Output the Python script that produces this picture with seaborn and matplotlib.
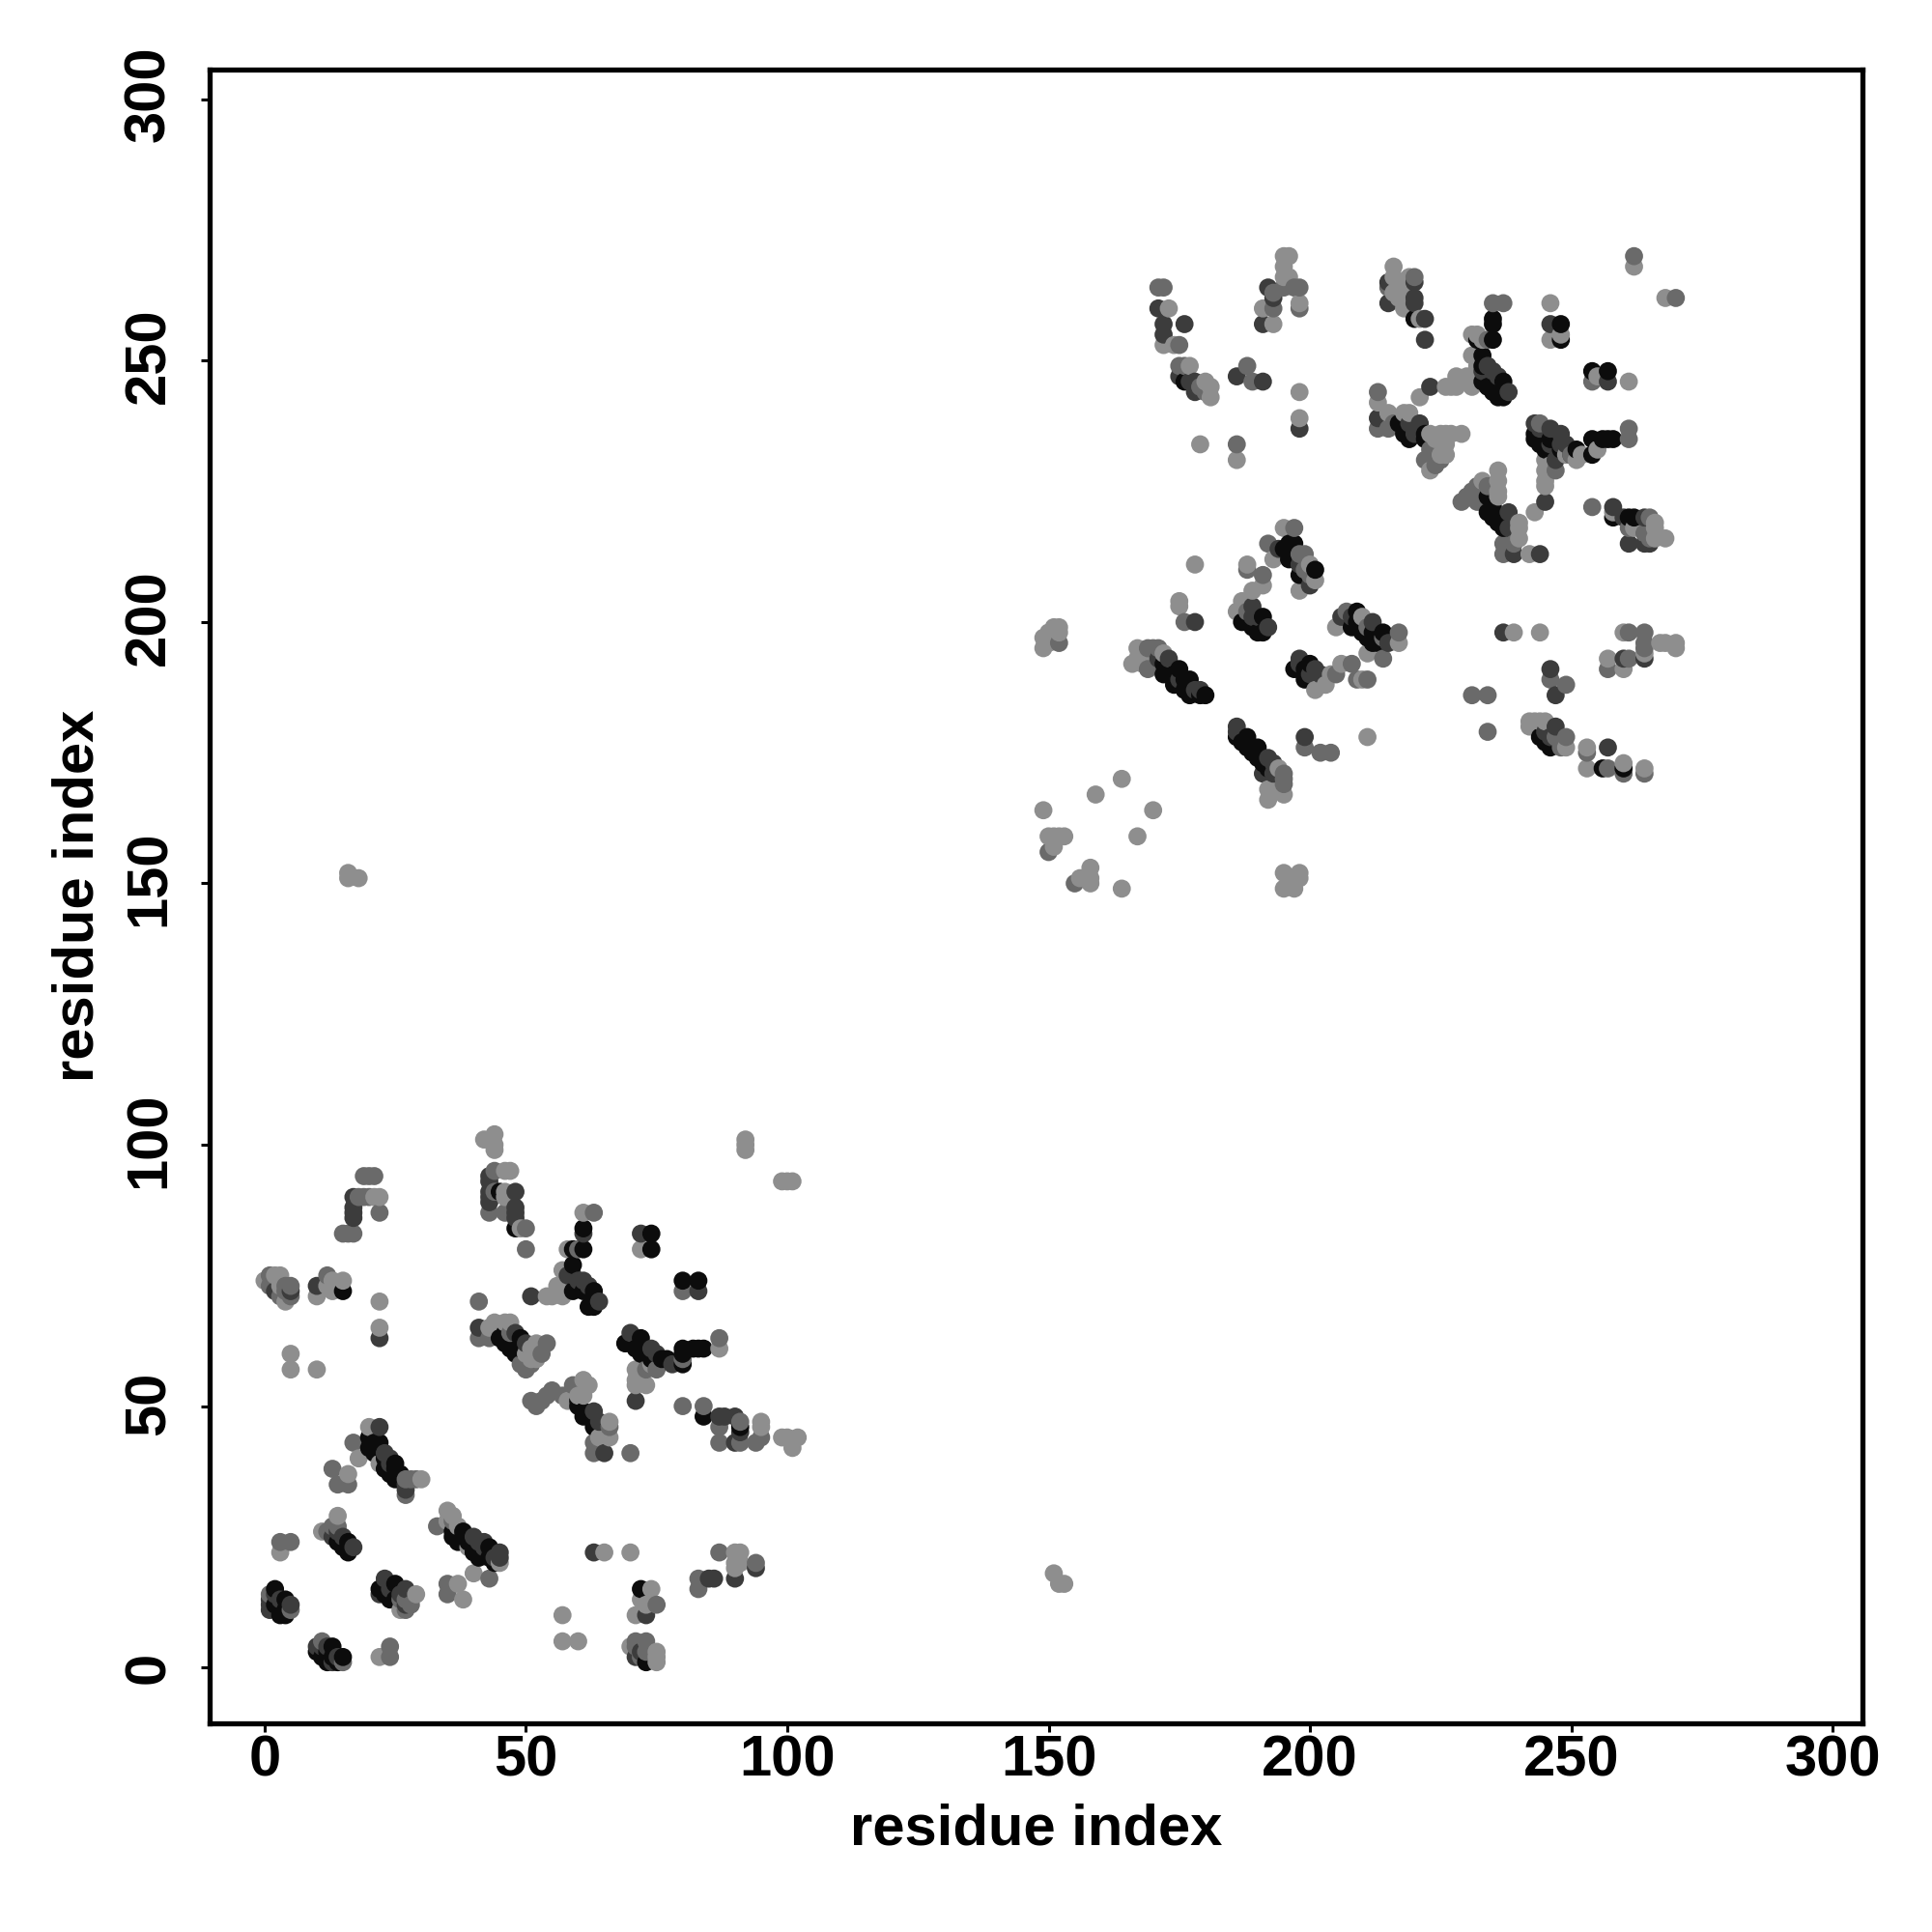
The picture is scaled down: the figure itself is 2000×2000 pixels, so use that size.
import pandas as pd
import matplotlib
matplotlib.use('Agg')
import matplotlib.pyplot as plt
from matplotlib.transforms import ScaledTranslation
import seaborn as sns

# contacts as (residue i, residue j, strength), 1 = weak ... 4 = strong
# lower left block
block_a = [(1,14,2),(1,13,3),(1,12,3),(1,11,3),(2,15,4),(2,14,3),(2,12,4),(3,11,4),(3,13,3),(3,10,4),(4,13,4),(4,11,4),(4,10,4),(5,11,2),(5,12,3)]
block_b = [(10,3,4),(10,4,3),(11,5,2),(11,4,3),(11,2,4),(12,3,4),(12,4,3),(12,1,4),(13,4,4),(13,2,4),(13,1,3),(14,2,3),(14,1,4),(15,2,4),(15,1,2),(22,2,1),(24,2,2),(24,4,2)]
block_c = [(3,24,2),(5,24,2),(3,22,1),(11,26,1),(12,26,2),(13,27,2),(13,25,3),(14,29,1),(14,27,2),(14,26,3),(14,24,4),(15,25,3),(15,23,4),(16,24,4),(16,23,4),(16,22,4),(17,23,3)]
block_d = [(22,15,4),(22,14,3),(23,17,3),(23,16,4),(23,14,4),(24,15,3),(24,14,4),(24,13,4),(25,16,4),(25,13,4),(26,14,3),(26,13,2),(26,11,1),(27,15,3),(27,13,2),(27,12,3),(27,11,2),(28,12,2),(29,14,1)]
block_e = [(33,27,2),(35,30,1),(35,28,1),(35,16,2),(35,14,2),(36,29,1),(36,28,2),(36,26,4),(36,25,4),(37,16,1),(37,27,1),(37,24,4),(38,26,4),(38,25,4),(38,13,1),(39,24,4),(39,23,1),(40,25,3),(40,22,4),(40,18,1),(41,24,3),(41,22,4),(41,21,4),(42,23,3),(42,24,3),(43,23,4),(43,21,4),(43,17,2),(44,21,3),(44,20,4),(45,20,1),(45,22,3),(45,21,3)]
block_f = [(20,46,1),(22,46,3),(17,43,2),(18,40,1),(20,44,4),(20,42,4),(21,43,4),(21,41,4),(22,43,4),(22,42,4),(22,39,1),(23,41,3),(23,40,4),(23,38,4),(24,40,3),(24,39,3),(24,37,4),(25,38,4),(25,39,4),(25,36,4),(26,36,4),(26,37,4),(27,36,2),(27,35,3),(27,33,2),(27,34,3),(28,36,2),(29,36,2),(30,36,1),(13,38,2),(16,37,1),(14,35,2),(16,35,2)]
block_g = [(0,74,1),(1,75,2),(2,75,1),(3,75,1),(1,73,2),(2,72,3),(3,73,1),(4,73,2),(4,72,2),(5,73,2),(5,72,3),(5,71,2),(3,71,2),(4,70,1),(10,73,3),(10,71,1),(12,75,2),(12,73,1),(13,72,1),(13,74,1),(15,74,1),(15,72,4),(22,70,1),(22,65,1),(22,63,3),(5,60,1),(5,57,1),(10,57,1)]
block_h = [(19,94,2),(20,94,2),(21,94,2),(17,90,3),(18,90,2),(19,90,2),(20,90,2),(21,90,1),(22,90,1),(17,88,3),(17,87,3),(17,86,3),(22,87,2),(15,83,2),(16,83,2),(17,83,2),(42,101,1),(44,102,1),(44,100,1),(44,99,1)]
block_i = [(43,94,3),(43,93,3),(44,95,2),(46,95,1),(47,95,1),(43,91,3),(43,90,3),(43,89,3),(44,91,2),(45,91,4),(46,90,1),(46,91,1),(48,91,3),(43,87,2),(46,87,2),(48,88,3),(48,87,3),(48,86,3),(48,84,4),(49,84,1),(50,84,2),(50,80,2)]
block_j = [(41,70,2),(41,65,3),(41,63,2),(43,63,2),(43,65,1),(44,66,1),(46,66,1),(47,66,1),(47,64,2),(46,64,4),(45,63,4),(46,62,4),(48,64,3),(47,61,4),(48,60,4),(49,63,4),(49,61,4),(50,62,3),(50,60,1),(51,61,1),(52,62,1),(54,62,2),(53,60,2),(52,60,1),(51,59,1),(49,58,2),(51,58,2),(52,59,1),(50,57,2)]
block_k = [(51,51,2),(52,50,2),(53,51,2),(54,52,2),(55,53,2),(57,52,2),(58,51,1),(59,54,2),(60,52,1),(61,55,1),(62,54,1),(60,51,4),(60,50,4),(61,49,4),(61,48,4),(61,52,1),(62,48,4),(63,49,3),(63,46,4),(64,47,3),(64,44,1),(63,43,2),(63,41,2),(66,47,1),(66,46,2),(66,44,1),(65,41,3),(70,41,2)]
block_l = [(61,87,1),(63,87,2),(61,84,4),(61,83,3),(61,80,4),(59,80,4),(58,80,1),(60,80,2),(59,77,4),(57,76,1),(58,75,3),(59,75,3),(59,72,4),(60,74,3),(61,74,3),(61,72,4),(62,73,3),(63,72,4),(63,71,4),(64,70,3),(62,69,4),(63,69,4),(57,71,1),(55,71,1),(54,71,1),(51,71,3),(56,73,1),(58,73,1)]
block_m = [(72,83,3),(74,83,4),(72,80,1),(74,80,4),(80,74,4),(83,74,4),(80,72,2),(83,72,3),(70,64,3),(72,63,4),(69,62,4),(70,62,4),(71,61,4),(72,60,4),(74,61,3),(74,59,4),(75,60,3),(76,59,4),(77,59,4),(78,58,3),(80,61,4),(80,60,4),(80,58,4),(80,59,2),(82,61,4),(83,61,4),(84,61,4),(87,63,2),(87,61,1)]
block_n = [(71,57,1),(71,55,1),(71,54,1),(72,55,1),(73,54,1),(73,57,2),(75,57,2),(74,58,1),(71,51,3),(80,50,2),(84,50,2),(84,48,4),(87,48,3),(88,48,3),(87,46,2),(87,43,2),(90,48,3),(91,46,4),(91,45,3),(91,47,2),(91,43,2),(90,43,3),(94,43,2),(95,47,1),(95,44,2),(95,46,1),(99,44,1),(100,44,1),(102,44,1),(101,42,1)]
block_o = [(92,101,1),(92,100,1),(92,99,1),(99,93,1),(100,93,1),(101,93,1),(63,22,3),(65,22,1),(70,22,1),(72,15,4),(74,15,1),(72,13,1),(75,12,2),(73,12,1),(71,10,1),(73,10,3)]
block_p = [(57,10,1),(57,5,1),(60,5,1),(70,4,1),(71,5,2),(73,5,2),(71,2,3),(71,4,2),(73,1,4),(72,3,3),(72,2,2),(73,3,2),(75,3,1),(75,1,1),(75,2,1),(87,22,2),(90,22,1),(91,22,1),(90,20,1),(91,20,1),(90,19,1),(94,20,2),(94,19,3),(90,17,3),(86,17,3),(85,17,3),(83,17,2),(83,15,2)]
block_q = [(151,18,1),(152,16,1),(153,16,1),(16,152,1),(16,151,1),(18,151,1)]

# upper right block
block_r = [(149,164,1),(159,167,1),(164,170,1),(170,164,1),(167,159,1),(150,156,2),(151,157,1),(150,159,1),(151,159,1),(152,159,1),(153,159,1),(155,150,2),(156,151,1),(158,153,1),(158,151,1),(158,150,1),(164,149,1),(195,152,1),(198,152,1),(195,149,1),(197,149,1),(196,151,1),(198,151,1)]
block_s = [(149,195,1),(149,197,1),(150,196,1),(152,199,1),(151,199,1),(152,196,2),(152,198,1),(150,198,1),(166,192,1),(167,195,1),(167,193,1),(168,194,1),(168,192,1),(169,195,2),(170,195,2),(171,195,2),(171,193,3),(169,191,2),(172,194,1),(173,193,3),(172,192,4),(172,190,4),(173,191,4),(174,190,4),(175,191,4),(174,188,4),(175,189,3),(176,189,4),(177,189,4),(176,187,4),(177,186,4),(178,187,3),(179,187,3),(179,186,4),(180,186,4)]
block_t = [(175,204,1),(175,203,1),(176,200,2),(178,200,3),(178,211,1),(186,180,3),(186,179,3),(186,178,4),(187,177,4),(188,178,4),(188,176,4),(189,175,4),(190,176,4),(190,174,4),(191,173,4),(191,171,3),(192,174,3),(192,172,4),(193,173,3),(193,171,3),(194,172,1),(195,171,2),(195,170,2),(195,169,2),(195,167,1),(192,166,1),(192,168,1),(193,168,1),(199,178,3),(199,176,2),(202,175,2),(204,175,2),(211,178,1)]
block_u = [(188,211,1),(188,210,2),(191,209,2),(191,207,1),(189,206,1),(187,204,1),(186,202,1),(188,202,2),(189,203,3),(187,200,4),(188,200,4),(189,199,4),(190,198,4),(191,198,4),(191,201,4),(192,199,3),(190,201,3),(189,201,3)]
block_v = [(195,218,1),(197,218,2),(192,215,2),(193,212,1),(194,214,3),(195,214,4),(196,215,4),(197,215,4),(196,212,4),(197,212,4),(198,213,2),(199,213,2),(198,209,4),(198,211,3),(200,211,1),(199,210,2),(200,209,2),(201,210,4),(201,208,1),(200,207,3),(198,206,1)]
block_w = [(198,193,3),(197,191,4),(198,192,3),(200,192,4),(199,189,4),(199,191,4),(200,190,3),(201,191,3),(202,190,3),(201,187,1),(203,188,1),(204,190,1),(205,190,2),(206,192,1),(208,192,2),(210,189,1),(209,189,2),(211,189,2)]
block_x = [(206,201,3),(205,199,1),(207,202,2),(208,201,3),(209,202,4),(208,199,4),(209,200,4),(210,201,1),(210,198,4),(211,199,2),(212,200,3),(212,198,4),(211,197,4),(212,196,4),(214,198,4),(213,196,4),(215,196,3),(214,197,2),(217,198,2),(217,196,1),(211,194,1),(214,193,2)]
block_y = [(171,264,2),(172,264,2),(171,260,3),(173,260,1),(172,257,3),(172,255,3),(172,253,1),(176,257,3),(175,253,2),(174,253,1),(175,249,2),(176,249,2),(177,249,1),(175,247,3),(176,246,4),(177,246,3),(178,246,3),(178,244,3),(179,245,2),(180,246,1),(181,243,1),(181,245,1),(180,244,2),(186,247,3),(188,249,2),(189,246,2),(191,246,3),(186,234,2),(186,231,1),(179,234,1),(198,244,1),(198,239,1),(198,237,3)]
block_z = [(195,270,1),(196,270,1),(195,268,1),(195,266,1),(192,264,3),(193,263,2),(195,264,2),(197,264,2),(198,264,2),(191,260,1),(193,260,2),(193,262,3),(198,261,1),(198,260,2),(191,257,3),(193,257,1),(196,266,1)]

block_aa = [(216,268,1),(215,265,3),(215,264,2),(215,261,3),(216,266,1),(216,263,1),(217,265,1),(217,262,1),(218,264,1),(219,266,1),(218,260,1),(220,266,2),(220,265,3),(220,262,3),(220,261,3),(220,258,4),(221,258,1),(222,258,3),(222,254,3),(262,270,2),(262,268,1),(268,262,1),(270,262,2)]
block_ab = [(235,261,2),(237,261,2),(235,258,4),(235,257,4),(235,254,4),(232,254,4),(233,254,1),(232,255,1),(231,255,1),(234,254,2),(231,251,1),(232,251,1),(233,251,4),(232,249,1),(233,249,4),(233,248,3),(235,248,3),(234,249,3),(233,246,4),(234,245,4),(236,247,3),(237,246,4),(235,244,4),(236,243,4),(237,243,4),(238,244,3),(231,246,1),(230,247,1),(228,247,1),(226,245,1),(227,245,1),(228,245,1),(231,245,1),(223,245,3),(221,243,1)]
block_ac = [(213,244,2),(213,242,1),(213,239,3),(213,237,2),(215,237,2),(215,240,1),(216,238,2),(218,240,1),(219,240,1),(219,238,3),(217,238,4),(218,236,4),(221,238,3),(219,235,4),(220,236,3),(222,236,4),(222,235,4),(223,236,1),(224,235,1),(225,236,1),(226,236,1),(227,236,1),(229,236,1),(226,234,1),(225,232,1),(224,233,2),(225,231,2),(223,229,1),(222,231,2),(226,232,1),(224,230,2),(223,233,2)]
block_ad = [(236,229,1),(236,227,1),(236,225,1),(236,224,1),(233,227,1),(234,226,2),(232,226,2),(231,225,2),(229,223,2),(230,224,2),(232,223,2),(233,224,2),(234,224,4),(235,222,4),(238,221,3),(234,221,4),(235,220,4),(236,219,4),(237,218,4),(238,218,3),(240,219,1),(240,218,1),(240,216,1),(239,215,2),(237,215,2),(237,213,2),(239,213,3),(242,213,1),(244,213,3)]
block_ae = [(243,221,1),(245,223,3),(245,226,1),(245,227,1),(245,229,1),(245,231,1),(246,230,1),(247,229,2),(243,238,3),(244,238,2),(246,237,3),(243,236,4),(243,235,4),(244,237,3),(244,234,4),(246,235,4),(248,236,3),(246,234,3),(245,233,4),(248,234,3),(249,234,3),(248,233,4),(250,232,3),(251,233,4),(250,232,2),(249,232,1),(247,231,3),(251,231,1),(252,232,1),(254,235,4),(254,232,4),(255,233,1),(256,235,4),(257,235,4),(258,235,4),(261,237,2),(261,235,2)]
block_af = [(246,261,1),(246,257,3),(248,257,4),(248,254,4),(246,254,1),(248,255,1),(254,248,4),(257,248,4),(254,246,2),(257,246,3),(255,247,1),(261,246,1)]
block_ag = [(254,222,2),(258,222,3),(258,220,4),(258,221,1),(261,220,4),(262,220,4),(260,220,3),(264,220,3),(265,220,2),(261,218,2),(262,218,1),(264,217,2),(261,215,3),(264,215,3),(265,215,3),(266,219,1),(266,218,1),(266,216,1),(265,216,2),(268,216,1)]
block_ah = [(237,198,3),(239,198,1),(244,198,1),(231,186,2),(234,186,2),(234,179,2),(246,191,3),(246,189,2),(249,188,2),(247,186,3),(242,181,1),(243,181,1),(244,181,1),(245,181,1),(242,180,1),(244,178,4),(247,180,3),(245,179,3),(245,177,4),(246,178,3),(247,178,2),(246,176,4),(249,178,2),(249,176,1),(248,176,2),(253,176,1),(253,175,2),(253,172,1),(257,176,3),(256,172,4),(257,172,2),(260,173,1),(260,172,4),(260,171,2),(264,172,1),(264,171,2)]
block_ai = [(260,198,1),(261,198,2),(264,198,2),(264,196,2),(264,195,2),(264,194,1),(264,193,3),(267,196,1),(268,196,1),(270,196,1),(270,195,1),(257,193,1),(257,191,2),(260,191,1),(260,193,3),(261,193,2)]

blocks = [block_a, block_b, block_c, block_d, block_e, block_f, block_g, block_h, block_i,
          block_j, block_k, block_l, block_m, block_n, block_o, block_p, block_q,
          block_r, block_s, block_t, block_u, block_v, block_w, block_x, block_y, block_z,
          block_aa, block_ab, block_ac, block_ad, block_ae, block_af, block_ag, block_ah, block_ai]
rows = [row for b in blocks for row in b]
contacts = pd.DataFrame(rows, columns=['i', 'j', 'strength']).sort_values(['i', 'j'])

sns.set_theme(style='white')
plt.rcParams['font.family'] = ['Liberation Sans', 'DejaVu Sans']
plt.rcParams['font.weight'] = 'bold'

palette = {1: '#8e8e8e', 2: '#6a6a6a', 3: '#3c3c3c', 4: '#0c0c0c'}

fig = plt.figure(figsize=(20, 20), dpi=100)
ax = fig.add_axes([0.10825, 0.10825, 0.85575, 0.85575])
sns.scatterplot(data=contacts, x='i', y='j', hue='strength', palette=palette,
                s=182, linewidth=0, legend=False, ax=ax, zorder=3)

ax.set_xlim(-10.6, 305.7)
ax.set_ylim(-10.6, 305.7)
ticks = [0, 50, 100, 150, 200, 250, 300]
ax.set_xticks(ticks)
ax.set_yticks(ticks)
ax.tick_params(axis='both', direction='out', length=6.5, width=2.2, color='black',
               labelsize=43, labelcolor='black', left=True, bottom=True)
ax.tick_params(axis='x', pad=2)
ax.tick_params(axis='y', pad=18)
for t, v in zip(ax.get_yticklabels(), ticks):
    t.set_rotation(90)
    t.set_va('center')
    # nudge the wider labels so they sit centred on their tick
    nudge = (len(str(v)) - 1) * 0.026
    t.set_transform(t.get_transform() + ScaledTranslation(0, nudge, fig.dpi_scale_trans))
for t in ax.get_xticklabels() + ax.get_yticklabels():
    t.set_fontweight('bold')
for sp in ax.spines.values():
    sp.set_visible(True)
    sp.set_color('black')
    sp.set_linewidth(3.8)
ax.set_xlabel('residue index', fontsize=43, fontweight='bold', color='black', labelpad=11.5)
ax.set_ylabel('residue index', fontsize=43, fontweight='bold', color='black', labelpad=14)

plt.savefig('out.png', dpi=100)
